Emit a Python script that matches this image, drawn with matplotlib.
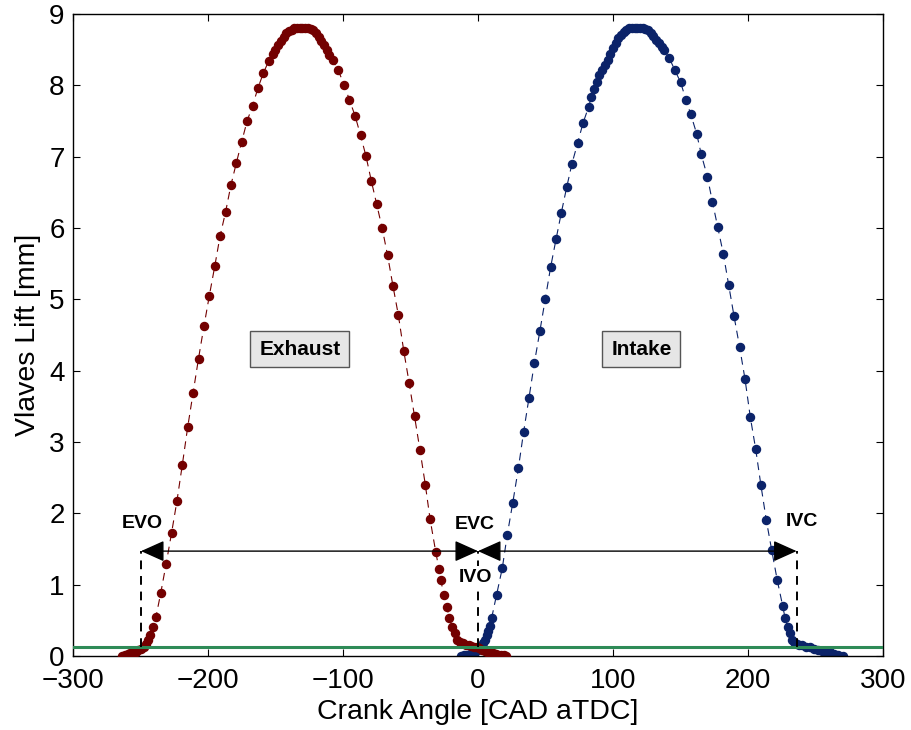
import matplotlib
matplotlib.use('Agg')
import matplotlib.pyplot as plt

# Valve lift traces (crank angle in CAD aTDC, lift in mm)
exhaust_cad = [-263.5, -261.5, -259.5, -257.5, -255.5, -253.5, -251.5, -249.5, -247.5, -246, -244.5, -243, -241, -238.5,
               -235, -231, -227, -223, -219, -215, -211, -207, -203, -199, -195, -191, -187, -183, -179, -175, -171,
               -167, -163, -159, -155,
               -152, -150, -148, -146, -144, -142, -140, -138, -136, -134, -132, -130, -128, -126, -124, -122, -120,
               -118, -116, -114, -112, -110,
               -107.5, -103.5, -99, -95.3, -91, -87, -83, -79, -75, -71, -67, -63, -59, -55, -51, -47, -43, -39,
               -35.5, -31.3, -28.9, -27.5, -25.5, -23, -21.2, -19, -17, -15.3,
               -13, -11, -9, -7, -5, -3, -1, 1, 3, 5, 7, 9, 11, 13, 15, 17, 19, 21]
exhaust_lift = [0.0, 0.02, 0.03, 0.04, 0.05, 0.06, 0.08, 0.10, 0.12, 0.17, 0.22, 0.30, 0.40, 0.55,
                0.88, 1.29, 1.72, 2.17, 2.68, 3.21, 3.69, 4.17, 4.62, 5.05, 5.46, 5.89, 6.22, 6.60, 6.91, 7.21, 7.50,
                7.71, 7.96, 8.17, 8.34,
                8.44, 8.50, 8.56, 8.62, 8.68, 8.73, 8.76, 8.78, 8.80, 8.80, 8.80, 8.80, 8.80, 8.80, 8.79, 8.77, 8.73,
                8.68, 8.62, 8.56, 8.49, 8.42,
                8.35, 8.21, 8.00, 7.80, 7.57, 7.30, 7.01, 6.66, 6.33, 6.00, 5.62, 5.19, 4.78, 4.28, 3.83, 3.36, 2.89, 2.40,
                1.92, 1.46, 1.22, 1.07, 0.86, 0.68, 0.53, 0.40, 0.32, 0.23,
                0.20, 0.18, 0.16, 0.15, 0.14, 0.13, 0.12, 0.11, 0.09, 0.07, 0.06, 0.05, 0.04, 0.03, 0.02, 0.015, 0.01, 0.0]

intake_cad = [-12.3, -10, -8, -6, -4, -2, 0, 2, 4, 5.2, 6.4, 7.6, 8.9, 10.1,
              13.8, 18, 21.7, 25.7, 29.9, 33.8, 37.8, 41.7, 45.9, 49.9, 53.8, 57.8, 61.7, 65.7, 69.6, 73.8, 77.8,
              82, 84, 86, 88, 90, 92, 94, 96, 98, 100, 102, 104, 106, 108, 110, 112, 114, 116, 118, 120, 122, 124,
              126, 128, 130, 132, 134, 136, 138,
              141.7, 145.9, 150.1, 154, 157.5, 162, 165.4, 169.9, 173.6, 177.5, 181.7, 185.7, 189.6, 193.8, 197.8,
              201.7, 205.7, 209.6, 213.6, 217.5, 221.6, 225.7, 227.5, 229.3, 231, 232.4,
              234, 236, 238, 240, 243, 246, 249, 252, 255, 258, 261, 264, 267, 270.5]
intake_lift = [0.0, 0.01, 0.02, 0.03, 0.04, 0.06, 0.08, 0.12, 0.18, 0.23, 0.29, 0.35, 0.42, 0.53,
               0.86, 1.23, 1.70, 2.14, 2.63, 3.14, 3.62, 4.10, 4.56, 5.01, 5.45, 5.84, 6.21, 6.57, 6.90, 7.19, 7.47,
               7.70, 7.84, 7.95, 8.05, 8.14, 8.22, 8.29, 8.36, 8.44, 8.52, 8.59, 8.66, 8.71, 8.75, 8.78, 8.80, 8.80,
               8.80, 8.80, 8.80, 8.80, 8.79, 8.77, 8.73, 8.69, 8.64, 8.59, 8.54, 8.50,
               8.38, 8.21, 8.04, 7.80, 7.60, 7.32, 7.03, 6.72, 6.37, 6.02, 5.64, 5.20, 4.77, 4.33, 3.88,
               3.35, 2.90, 2.39, 1.90, 1.49, 1.07, 0.70, 0.53, 0.41, 0.32, 0.22,
               0.19, 0.17, 0.16, 0.15, 0.13, 0.12, 0.10, 0.09, 0.07, 0.06, 0.05, 0.03, 0.02, 0.0]

# valve events [CAD] and levels [mm]
evo, evc, ivo, ivc = -249.6, 0.0, 0.0, 236.0
arrow_level = 1.47
threshold = 0.13

exh_col = '#730000'
int_col = '#0b2369'

plt.rcParams['font.family'] = ['Liberation Sans', 'DejaVu Sans']

fig = plt.figure(figsize=(9.12, 7.30), dpi=100)
ax = fig.add_axes([0.080, 0.1014, 0.8882, 0.8795])

ax.plot(intake_cad, intake_lift, ls=(0, (7, 5)), lw=0.8, color=int_col,
        marker='o', ms=5.8, mfc=int_col, mec=int_col, zorder=2)
ax.plot(exhaust_cad, exhaust_lift, ls=(0, (7, 5)), lw=0.8, color=exh_col,
        marker='o', ms=5.8, mfc=exh_col, mec=exh_col, zorder=3)

# threshold line
ax.axhline(threshold, color='#2e8b57', lw=2.2, zorder=4)

# event markers
for xv, ytop in [(evo, arrow_level), (ivo, arrow_level), (ivc, arrow_level)]:
    ax.plot([xv, xv], [threshold, ytop], color='k', lw=1.4, ls=(0, (4.5, 3.5)), zorder=5)

arr = dict(arrowstyle='<|-|>,head_length=1.45,head_width=0.65', mutation_scale=10,
           color='k', lw=1.0, shrinkA=0, shrinkB=0)
ax.annotate('', xy=(evo, arrow_level), xytext=(evc, arrow_level), arrowprops=arr, zorder=6)
ax.annotate('', xy=(ivc, arrow_level), xytext=(ivo, arrow_level), arrowprops=arr, zorder=6)

lab = dict(fontsize=14, fontweight='bold', ha='center', va='center', zorder=7)
ax.text(-248.5, 1.86, 'EVO', **lab)
ax.text(-2.2, 1.84, 'EVC', **lab)
ax.text(-1.9, 1.10, 'IVO', bbox=dict(facecolor='white', edgecolor='none', pad=2), **lab)
ax.text(240, 1.89, 'IVC', **lab)

box = dict(boxstyle='square,pad=0.42', facecolor='#e6e6e6', edgecolor='#555555', lw=1.0)
ax.text(-132, 4.30, 'Exhaust', fontsize=15, fontweight='bold', ha='center', va='center', bbox=box, zorder=7)
ax.text(121, 4.30, 'Intake', fontsize=15, fontweight='bold', ha='center', va='center', bbox=box, zorder=7)

ax.set_xlim(-300, 300)
ax.set_ylim(0, 9)
ax.set_xticks(range(-300, 301, 100))
ax.set_yticks(range(0, 10))
ax.tick_params(direction='in', top=True, right=True, length=5, width=0.8, labelsize=20)
ax.tick_params(axis='x', pad=9)
ax.tick_params(axis='y', pad=6)
for s in ax.spines.values():
    s.set_linewidth(1.0)

ax.set_xlabel('Crank Angle [CAD aTDC]', fontsize=20.5, labelpad=3)
ax.set_ylabel('Vlaves Lift [mm]', fontsize=20.5, labelpad=6)

fig.savefig('out.png', dpi=100)
